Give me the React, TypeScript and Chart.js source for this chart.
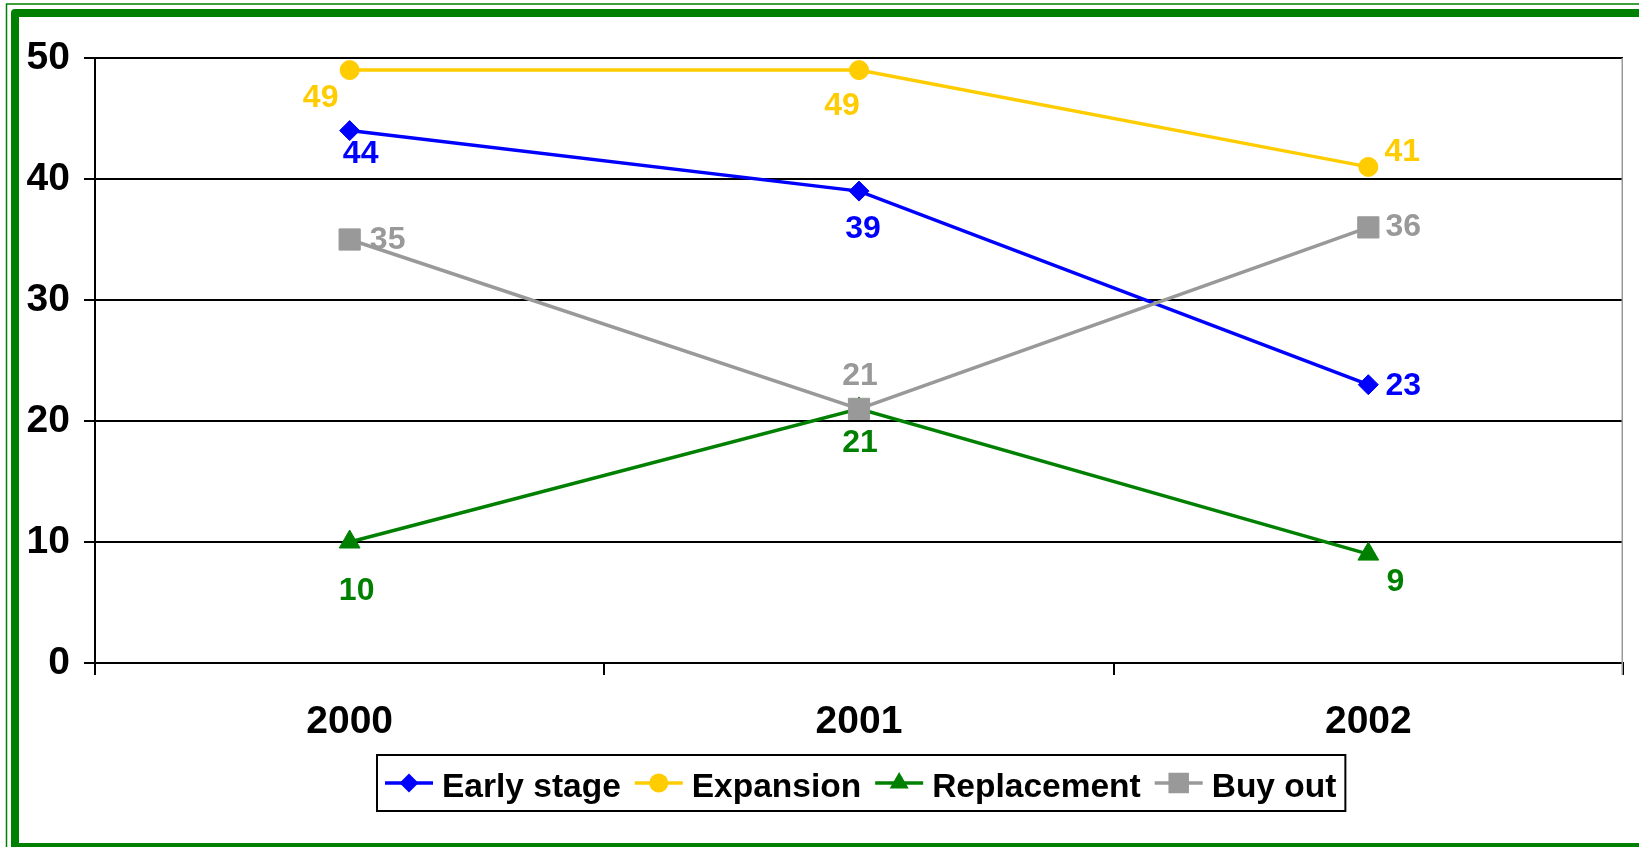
import React, { useEffect, useRef } from "react";
import { Chart, registerables } from "chart.js";

Chart.register(...registerables);

// ---- data ----
const categories = ["2000", "2001", "2002"];
const earlyStage = [44, 39, 23];
const expansion = [49, 49, 41];
const replacement = [10, 21, 9];
const buyOut = [35, 21, 36];
const yTicks = [0, 10, 20, 30, 40, 50];
const seriesNames = ["Early stage", "Expansion", "Replacement", "Buy out"];

// ---- styles ----
const FONT = '"Liberation Sans", Arial, Helvetica, sans-serif';
const COLORS = ["#0000FF", "#FFCC00", "#008000", "#999999"];
const STYLES = ["rectRot", "circle", "triangle", "rect"];
const RADII = [10, 9.5, 12, 15];
// label offsets (dx, dy) from each point, per series
const LABEL_OFFSETS = [
  [[11, 21], [4, 35], [35, -1]],
  [[-29, 25], [-17, 33], [34, -17]],
  [[7, 47], [1, 32], [27, 25]],
  [[38, -2], [1, -35], [35, -3]],
];

const framePlugin = {
  id: "frame",
  beforeDraw(chart: any) {
    const ctx = chart.ctx;
    const W = chart.width;
    const H = chart.height;
    ctx.save();
    ctx.fillStyle = "#ffffff";
    ctx.fillRect(0, 0, W, H);
    ctx.strokeStyle = "#008000";
    ctx.lineWidth = 1.5;
    ctx.strokeRect(6.5, 4, W + 40, H + 40);
    ctx.lineWidth = 8;
    ctx.lineJoin = "round";
    ctx.strokeRect(15, 13, W + 40, H - 13);
    ctx.restore();
  },
  afterDraw(chart: any) {
    const ctx = chart.ctx;
    const a = chart.chartArea;
    ctx.save();
    ctx.strokeStyle = "#999999";
    ctx.lineWidth = 1.5;
    ctx.beginPath();
    ctx.moveTo(a.right - 0.75, a.top);
    ctx.lineTo(a.right - 0.75, a.bottom + 12);
    ctx.stroke();
    ctx.restore();
  },
};

const valueLabelPlugin = {
  id: "valueLabels",
  afterDatasetsDraw(chart: any) {
    const ctx = chart.ctx;
    const size = 32;
    ctx.save();
    ctx.font = `bold ${size}px ${FONT}`;
    ctx.textAlign = "center";
    ctx.textBaseline = "alphabetic";
    chart.data.datasets.forEach((ds: any, i: number) => {
      const meta = chart.getDatasetMeta(i);
      meta.data.forEach((pt: any, j: number) => {
        const [dx, dy] = LABEL_OFFSETS[i][j];
        ctx.fillStyle = ds.borderColor;
        ctx.fillText(String(ds.data[j]), pt.x + dx, pt.y + dy + size * 0.358);
      });
    });
    ctx.restore();
  },
};

function drawMarker(ctx: CanvasRenderingContext2D, style: string, x: number, y: number, r: number) {
  ctx.beginPath();
  if (style === "circle") {
    ctx.arc(x, y, r, 0, Math.PI * 2);
  } else if (style === "rectRot") {
    ctx.moveTo(x - r, y);
    ctx.lineTo(x, y - r);
    ctx.lineTo(x + r, y);
    ctx.lineTo(x, y + r);
    ctx.closePath();
  } else if (style === "triangle") {
    const w = r * Math.sin((Math.PI * 2) / 3);
    ctx.moveTo(x, y - r);
    ctx.lineTo(x + w, y + r / 2);
    ctx.lineTo(x - w, y + r / 2);
    ctx.closePath();
  } else {
    const s = r * Math.SQRT1_2;
    ctx.rect(x - s, y - s, 2 * s, 2 * s);
  }
  ctx.fill();
}

const legendPlugin = {
  id: "boxLegend",
  afterDraw(chart: any) {
    const ctx = chart.ctx;
    const size = 33.5;
    const top = 755;
    const height = 56;
    const lineY = 783;
    const startX = 385;
    ctx.save();
    ctx.font = `bold ${size}px ${FONT}`;
    const widths = seriesNames.map((n) => ctx.measureText(n).width);
    let total = 0;
    widths.forEach((w, i) => {
      total += 48 + 9 + w + (i < widths.length - 1 ? 14 : 0);
    });
    const boxLeft = startX - 8;
    const boxRight = startX + total + 9;
    ctx.fillStyle = "#ffffff";
    ctx.fillRect(boxLeft, top, boxRight - boxLeft, height);
    ctx.strokeStyle = "#000000";
    ctx.lineWidth = 2;
    ctx.strokeRect(boxLeft, top, boxRight - boxLeft, height);
    let x = startX;
    seriesNames.forEach((name, i) => {
      ctx.strokeStyle = COLORS[i];
      ctx.fillStyle = COLORS[i];
      ctx.lineWidth = 3.5;
      ctx.beginPath();
      ctx.moveTo(x, lineY);
      ctx.lineTo(x + 48, lineY);
      ctx.stroke();
      drawMarker(ctx, STYLES[i], x + 24, lineY, i === 3 ? 14.5 : i === 2 ? 11 : 9.5);
      ctx.fillStyle = "#000000";
      ctx.textAlign = "left";
      ctx.textBaseline = "alphabetic";
      ctx.fillText(name, x + 57, lineY + 2 + size * 0.358);
      x += 48 + 9 + widths[i] + 14;
    });
    ctx.restore();
  },
};

export default function App() {
  const canvasRef = useRef<HTMLCanvasElement | null>(null);

  useEffect(() => {
    const canvas = canvasRef.current;
    if (!canvas) return;
    const seriesData = [earlyStage, expansion, replacement, buyOut];
    const datasets = seriesData.map((d, i) => ({
      label: seriesNames[i],
      data: d,
      borderColor: COLORS[i],
      backgroundColor: COLORS[i],
      borderWidth: 3.5,
      pointStyle: STYLES[i],
      pointRadius: RADII[i],
      pointBorderWidth: 1,
      pointBorderColor: COLORS[i],
      pointBackgroundColor: COLORS[i],
      tension: 0,
      fill: false,
      order: 4 - i,
    }));
    const chart = new Chart(canvas, {
      type: "line",
      data: { labels: categories, datasets },
      options: {
        responsive: false,
        animation: false,
        events: [],
        layout: { padding: { top: 58, right: 1, bottom: 0, left: 0 } },
        plugins: {
          legend: { display: false },
          tooltip: { enabled: false },
          title: { display: false },
        },
        scales: {
          x: {
            type: "category",
            offset: true,
            grid: {
              offset: true,
              drawOnChartArea: false,
              drawTicks: true,
              tickLength: 12,
              color: "#000000",
              lineWidth: 2,
            },
            border: { display: true, color: "#000000", width: 2 },
            ticks: {
              font: { family: FONT, size: 39, weight: "bold" },
              color: "#000000",
              padding: 24,
              maxRotation: 0,
              autoSkip: false,
            },
            afterFit: (s: any) => {
              s.height = 184;
            },
          },
          y: {
            min: 0,
            max: 50,
            afterBuildTicks: (s: any) => {
              s.ticks = yTicks.map((v) => ({ value: v }));
            },
            ticks: {
              font: { family: FONT, size: 39, weight: "bold" },
              color: "#000000",
              padding: 14,
            },
            grid: {
              color: "#000000",
              lineWidth: 2,
              drawTicks: true,
              tickLength: 11,
            },
            border: { display: true, color: "#000000", width: 2 },
            afterFit: (s: any) => {
              s.width = 95;
            },
          },
        },
      } as any,
      plugins: [framePlugin, valueLabelPlugin, legendPlugin],
    });
    return () => chart.destroy();
  }, []);

  return (
    <div style={{ position: "fixed", left: 0, top: 0, width: 1639, height: 847, overflow: "hidden" }}>
      <canvas ref={canvasRef} width={1639} height={847} style={{ display: "block" }} />
    </div>
  );
}
